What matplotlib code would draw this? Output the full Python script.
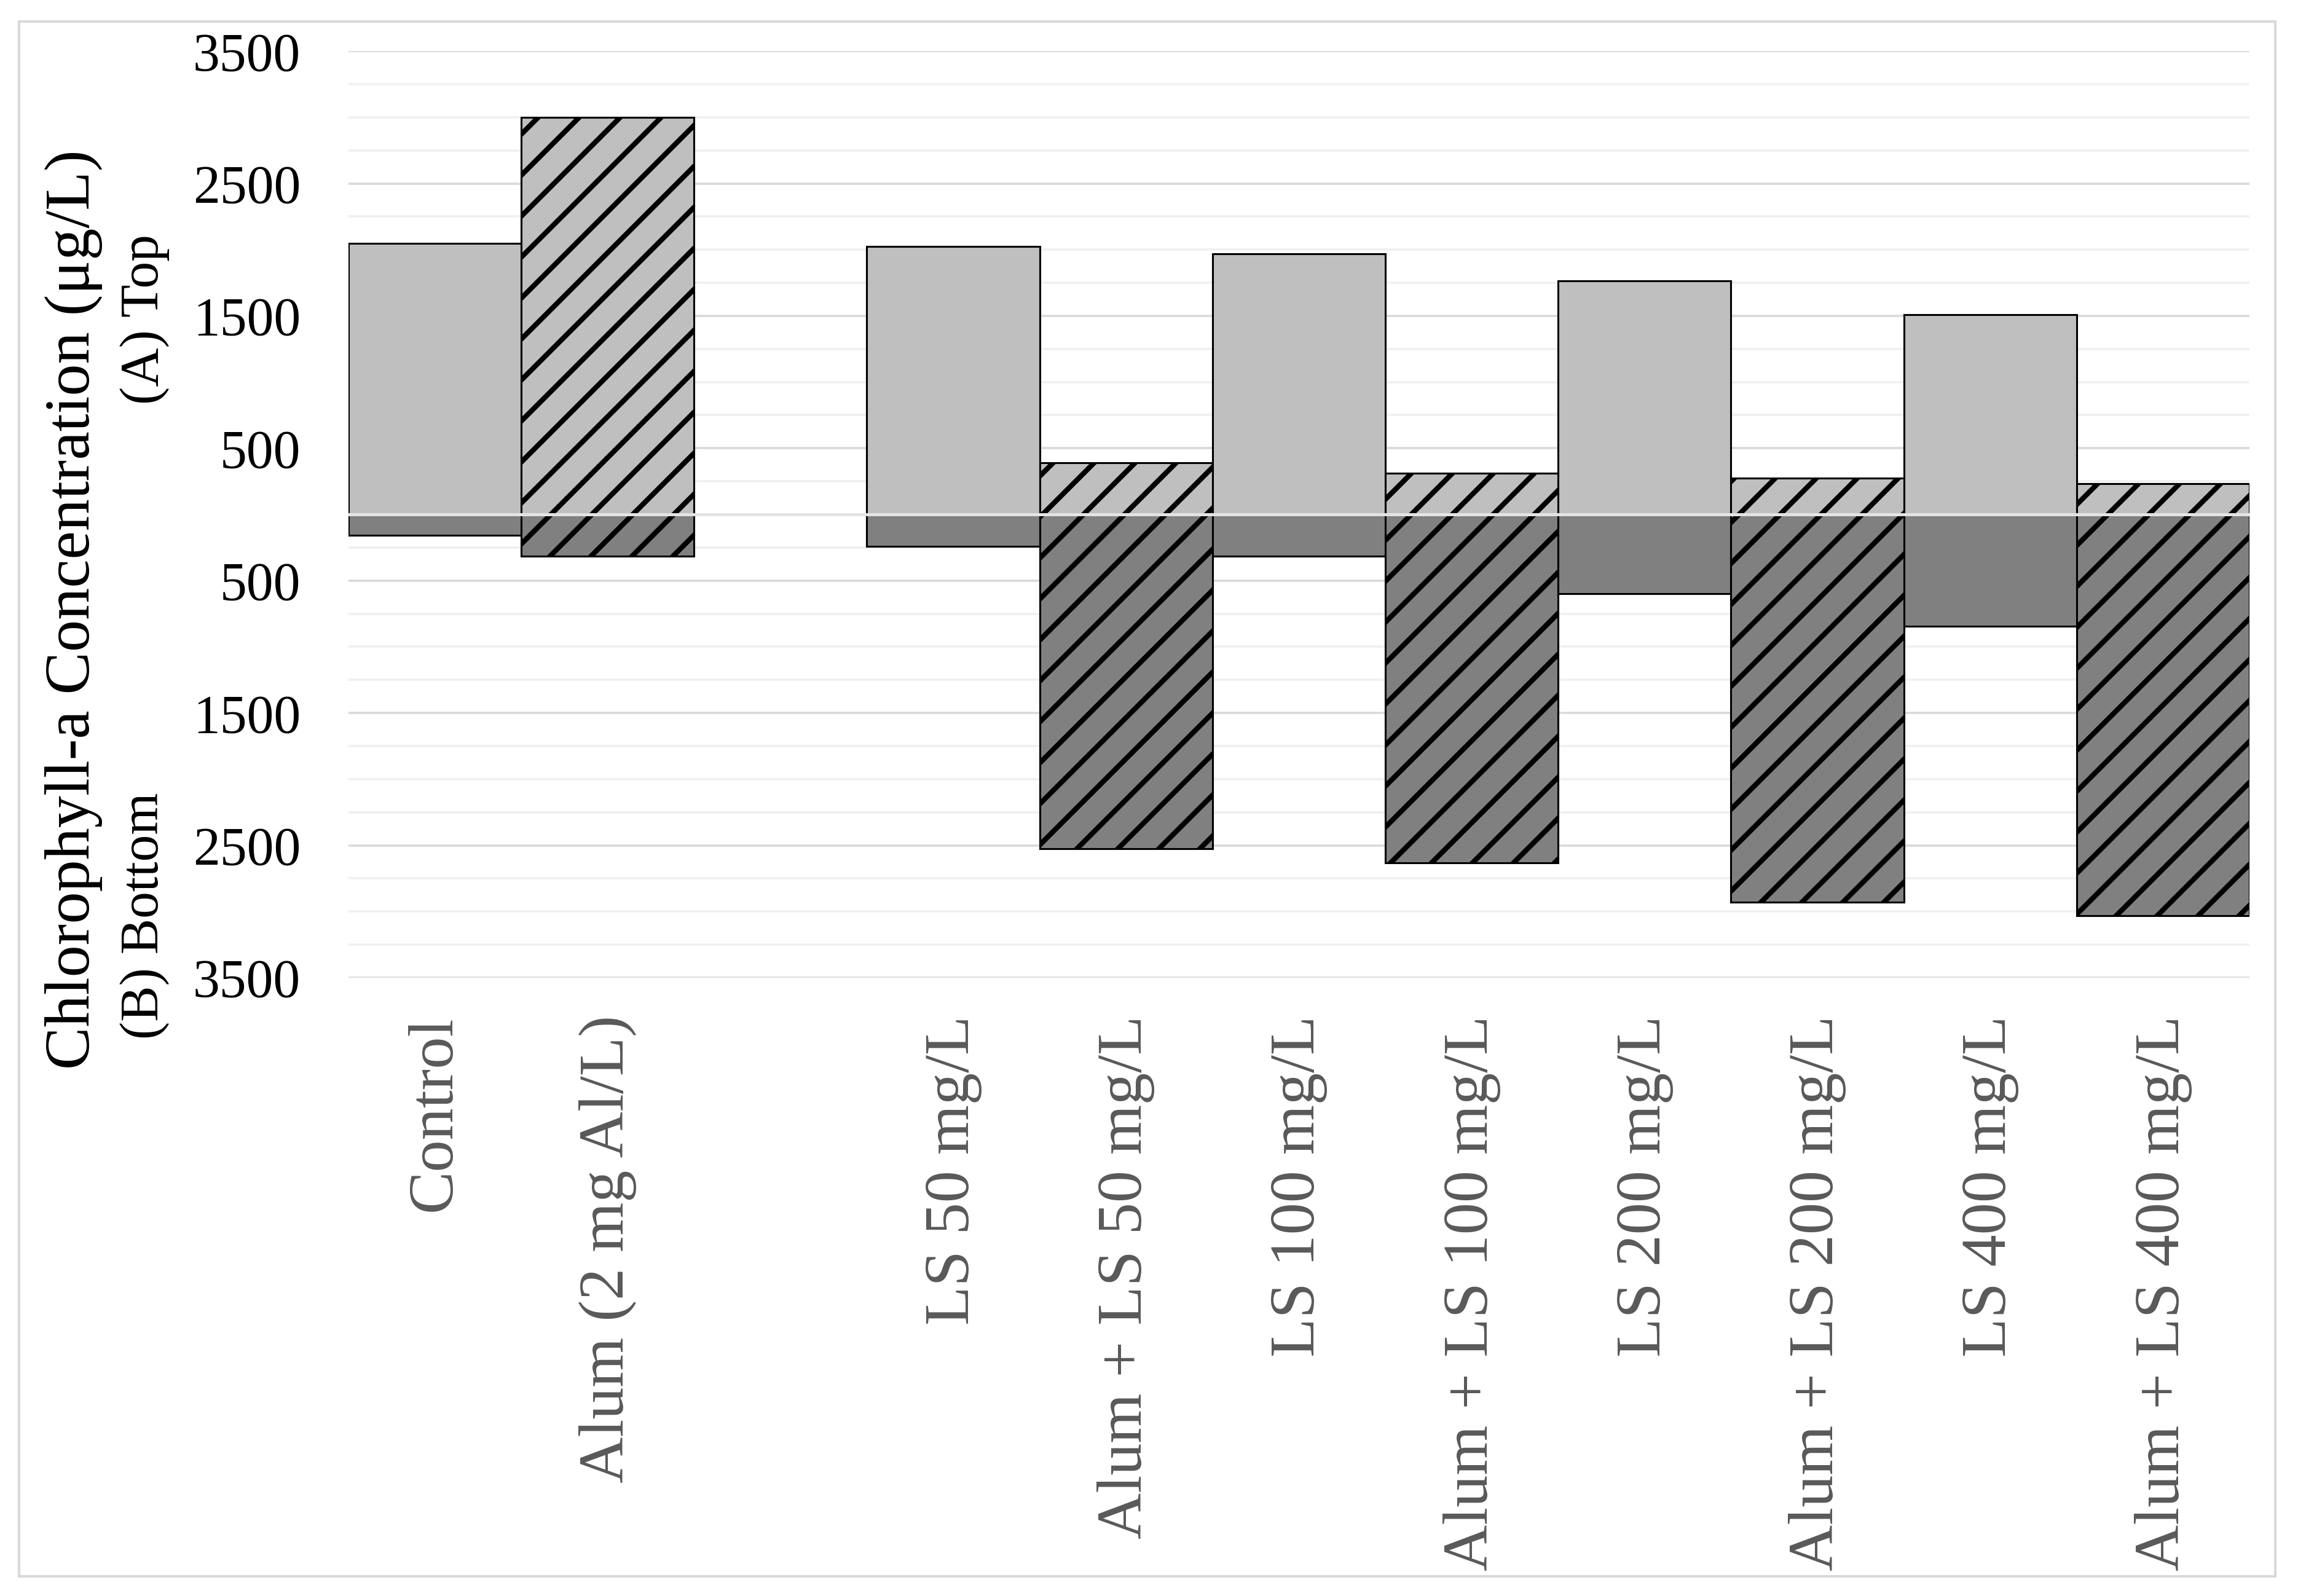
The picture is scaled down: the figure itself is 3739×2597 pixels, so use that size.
import numpy as np
import matplotlib.pyplot as plt
from matplotlib.patches import Rectangle

# DATOS
# =====
categorias = ["Control", "Alum (2 mg Al/L)",
              "LS 50 mg/L", "Alum + LS 50 mg/L",
              "LS 100 mg/L", "Alum + LS 100 mg/L",
              "LS 200 mg/L", "Alum + LS 200 mg/L",
              "LS 400 mg/L", "Alum + LS 400 mg/L"]
superior = [2048, 3000, 2023, 390, 1969, 312, 1762, 275, 1511, 233]     # (A) Top [ug/L]
inferior = [157, 314, 240, 2524, 317, 2631, 598, 2931, 843, 3030]      # (B) Bottom [ug/L]
con_alum = [False, True, False, True, False, True, False, True, False, True]

ticks_y = [-3500, -2500, -1500, -500, 500, 1500, 2500, 3500]

# ESTILO
# ======
plt.rcParams['font.family'] = ['Liberation Serif', 'DejaVu Serif']
plt.rcParams['hatch.linewidth'] = 3.0
plt.rcParams['hatch.color'] = 'black'

gris_claro = '#BFBFBF'
gris_oscuro = '#808080'

# dpi 200 para que el rayado tenga el paso del original
fig = plt.figure(figsize=(18.695, 12.985), dpi=200)
ax = fig.add_axes([0.1516, 0.3874, 0.8273, 0.5806])

# hueco entre Alum y LS 50
pos = np.array([i if i < 2 else i + 1 for i in range(len(categorias))])

for x, sup, inf, alum in zip(pos, superior, inferior, con_alum):
    patron = '/' if alum else None
    ax.bar(x, sup, width=1.0, color=gris_claro, edgecolor='black',
           linewidth=1.1, hatch=patron, zorder=3)
    ax.bar(x, -inf, width=1.0, color=gris_oscuro, edgecolor='black',
           linewidth=1.1, hatch=patron, zorder=3)

ax.axhline(0, color='#E3E3E3', linewidth=1.8, zorder=4)

ax.set_xlim(-0.5, pos[-1] + 0.5)
ax.set_ylim(-3500, 3500)
ax.set_yticks(ticks_y)
ax.set_yticklabels([str(abs(t)) for t in ticks_y])
ax.set_yticks(np.arange(-3500, 3501, 250), minor=True)
ax.grid(True, which='major', axis='y', color='#D9D9D9', linewidth=1.3, zorder=0)
ax.grid(True, which='minor', axis='y', color='#F0F0F0', linewidth=1.3, zorder=0)
ax.set_axisbelow(True)

ax.set_xticks(pos)
ax.set_xticklabels(categorias, rotation=90, ha='center', va='top',
                   fontsize=37.5, color='#595959')
ax.tick_params(axis='x', length=0, pad=22)
ax.tick_params(axis='y', which='both', length=0, pad=28, labelsize=31.5)

for s in ax.spines.values():
    s.set_visible(False)

fig.text(0.032, 0.618, "Chlorophyll-a Concentration (\u03bcg/L)", rotation=90,
         ha='center', va='center', fontsize=37.5)
fig.text(0.063, 0.800, "(A) Top", rotation=90, ha='center', va='center', fontsize=31.5)
fig.text(0.063, 0.426, "(B) Bottom", rotation=90, ha='center', va='center', fontsize=31.5)

# marco exterior
fig.patches.append(Rectangle((0.0084, 0.0123), 0.9817, 0.9742, transform=fig.transFigure,
                             fill=False, edgecolor='#D9D9D9', linewidth=1.5))

fig.savefig("out.png", dpi=200)
